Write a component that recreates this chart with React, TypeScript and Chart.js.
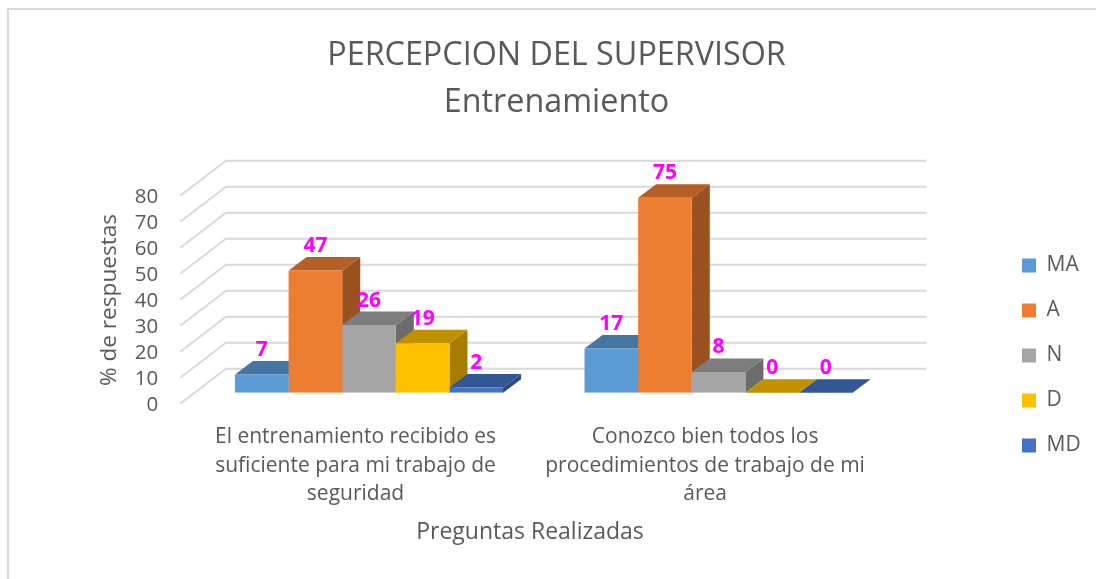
import React, { useEffect, useRef } from "react";
import { Chart, registerables } from "chart.js";

Chart.register(...registerables);

const categories = [
  ["El entrenamiento recibido es", "suficiente para mi trabajo de", "seguridad"],
  ["Conozco bien todos los", "procedimientos de trabajo de mi", "área"],
];
const valuesMA = [7, 17];
const valuesA = [47, 75];
const valuesN = [26, 8];
const valuesD = [19, 0];
const valuesMD = [2, 0];
const titleLines = ["PERCEPCION DEL SUPERVISOR", "Entrenamiento"];
const yTitle = "% de respuestas";
const xTitle = "Preguntas Realizadas";

const TEXT = "#595959";
const GRID = "#D9D9D9";
const FONT = "'Open Sans'";
const DEPTH_X = 18;
const DEPTH_Y = 13.5;

const seriesStyles = [
  { label: "MA", data: valuesMA, front: "#5B9BD5", top: "#4575A1", side: "#3E6A92" },
  { label: "A", data: valuesA, front: "#ED7D31", top: "#B45F25", side: "#9A5120" },
  { label: "N", data: valuesN, front: "#A5A5A5", top: "#7D7D7D", side: "#6C6C6C" },
  { label: "D", data: valuesD, front: "#FFC000", top: "#C19100", side: "#A67D00" },
  { label: "MD", data: valuesMD, front: "#4472C4", top: "#335694", side: "#2C4A80" },
];

const poly = (ctx: CanvasRenderingContext2D, pts: number[][], fill: string) => {
  ctx.fillStyle = fill;
  ctx.beginPath();
  pts.forEach(([x, y], i) => (i ? ctx.lineTo(x, y) : ctx.moveTo(x, y)));
  ctx.closePath();
  ctx.fill();
};

const scene3d = {
  id: "scene3d",
  afterLayout(chart: any) {
    if (chart.titleBlock) {
      chart.titleBlock.left = 17;
      chart.titleBlock.right = 1096;
    }
    const l = chart.legend;
    if (l) {
      const w = l.width;
      l.left = 998;
      l.right = 998 + w;
      l.top += 66;
      l.bottom += 66;
    }
  },
  beforeDraw(chart: any) {
    const { ctx } = chart;
    ctx.save();
    ctx.fillStyle = "#FFFFFF";
    ctx.fillRect(0, 0, chart.width, chart.height);
    ctx.strokeStyle = GRID;
    ctx.lineWidth = 2;
    ctx.beginPath();
    ctx.moveTo(8, chart.height);
    ctx.lineTo(8, 9);
    ctx.lineTo(chart.width, 9);
    ctx.stroke();
    ctx.restore();
  },
  beforeDatasetsDraw(chart: any) {
    const { ctx, chartArea } = chart;
    const yScale = chart.scales.y;
    ctx.save();
    ctx.strokeStyle = GRID;
    ctx.lineWidth = 2;
    const backX = chartArea.left + 31.75;
    const frontX = chartArea.left - 14;
    const wallRight = chartArea.right + 33;
    yScale.ticks.forEach((t: any) => {
      const y = yScale.getPixelForValue(t.value);
      ctx.beginPath();
      ctx.moveTo(frontX, y + 11);
      ctx.lineTo(backX, y - 24);
      ctx.lineTo(wallRight, y - 24);
      ctx.stroke();
    });
    const groups = chart.data.labels.length;
    for (let g = 0; g < groups; g++) {
      chart.data.datasets.forEach((_: any, d: number) => {
        const bar = chart.getDatasetMeta(d).data[g];
        const s = seriesStyles[d];
        const l = bar.x - bar.width / 2;
        const r = bar.x + bar.width / 2;
        poly(ctx, [[r, bar.y], [r + DEPTH_X, bar.y - DEPTH_Y], [r + DEPTH_X, bar.base - DEPTH_Y], [r, bar.base]], s.side);
        poly(ctx, [[l, bar.y], [r, bar.y], [r + DEPTH_X, bar.y - DEPTH_Y], [l + DEPTH_X, bar.y - DEPTH_Y]], s.top);
      });
    }
    ctx.restore();
  },
  afterDatasetsDraw(chart: any) {
    const { ctx } = chart;
    ctx.save();
    ctx.textAlign = "center";
    ctx.textBaseline = "middle";
    ctx.fillStyle = "#FF00FF";
    ctx.font = `bold 21px ${FONT}`;
    chart.data.datasets.forEach((ds: any, d: number) => {
      chart.getDatasetMeta(d).data.forEach((bar: any, i: number) => {
        ctx.fillText(String(ds.data[i]), bar.x, bar.y - 24.5);
      });
    });
    ctx.fillStyle = TEXT;
    ctx.font = `23px ${FONT}`;
    ctx.fillText(xTitle, 530, 532);
    ctx.font = `22.6px ${FONT}`;
    ctx.translate(110, 300);
    ctx.rotate(-Math.PI / 2);
    ctx.fillText(yTitle, 0, 0);
    ctx.restore();
  },
};

export default function App() {
  const ref = useRef<HTMLCanvasElement>(null);
  useEffect(() => {
    const chart = new Chart(ref.current as HTMLCanvasElement, {
      type: "bar",
      data: {
        labels: categories,
        datasets: seriesStyles.map((s) => ({
          label: s.label,
          data: s.data,
          backgroundColor: s.front,
          borderWidth: 0,
          categoryPercentage: 0.767,
          barPercentage: 1,
        })),
      },
      options: {
        responsive: false,
        animation: false,
        layout: { padding: { left: 0, right: 110, top: 0, bottom: 0 } },
        plugins: {
          title: {
            display: true,
            text: titleLines,
            color: TEXT,
            font: { family: FONT, size: 32.3, weight: "normal", lineHeight: 1.45 },
            padding: { top: 32.5, bottom: 58.5 },
          },
          legend: {
            position: "right",
            labels: {
              boxWidth: 14,
              boxHeight: 14,
              padding: 24,
              color: TEXT,
              font: { family: FONT, size: 21 },
            },
          },
          tooltip: { enabled: false },
        },
        scales: {
          x: {
            grid: { display: false },
            border: { display: false },
            afterFit: (s: any) => {
              s.height = 186.3;
            },
            ticks: {
              color: TEXT,
              font: { family: FONT, size: 21, lineHeight: 1.36 },
              padding: 22,
              labelOffset: -13.5,
              maxRotation: 0,
              minRotation: 0,
              autoSkip: false,
            },
          },
          y: {
            min: 0,
            max: 80,
            grid: { display: false, drawTicks: false },
            border: { display: false },
            afterFit: (s: any) => {
              s.width = 194.25;
            },
            ticks: {
              stepSize: 10,
              autoSkip: false,
              color: TEXT,
              font: { family: FONT, size: 20.5 },
              padding: 36,
              labelOffset: 12,
            },
          },
        },
      },
      plugins: [scene3d],
    } as any);
    return () => chart.destroy();
  }, []);
  return (
    <div style={{ position: "absolute", left: 0, top: 0, width: 1096, height: 579, background: "#fff" }}>
      <canvas ref={ref} width={1096} height={579} style={{ display: "block" }} />
    </div>
  );
}
